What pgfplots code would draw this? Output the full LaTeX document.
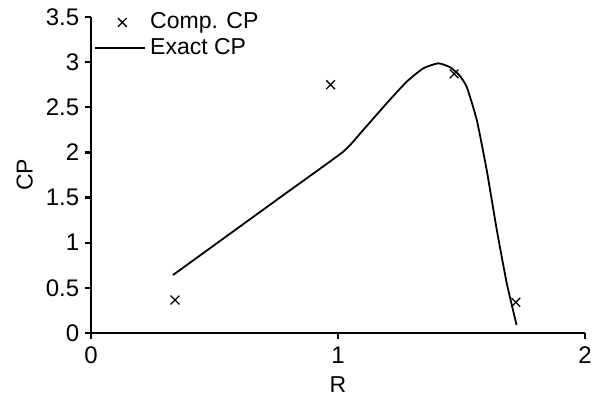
\documentclass[border=0pt]{standalone}
\usepackage{fontspec}
\setmainfont{Liberation Sans}
\usepackage{pgfplots}
\pgfplotsset{compat=1.18}
\pgfplotsset{
  mylinelegend/.style={legend image code/.code={\draw[##1] (0pt,0pt) -- (25pt,0pt);}},
  mymarklegend/.style={legend image code/.code={\draw[##1] plot coordinates {(13.5pt,0pt)};}},
}
\begin{document}
\fontsize{11}{13}\selectfont
\begin{tikzpicture}
\begin{axis}[
  scale only axis,
  width=247pt, height=158pt,
  xmin=0, xmax=2, ymin=0, ymax=3.5,
  axis lines*=left,
  axis line style={line width=1.2pt},
  xtick={0,1,2}, ytick={0,0.5,1,1.5,2,2.5,3,3.5},
  tick align=outside,
  major tick length=3pt,
  tick style={line width=1.2pt, black},
  /pgf/number format/assume math mode=true,
  xticklabel style={font=\fontsize{12}{14}\selectfont},
  yticklabel style={font=\fontsize{12}{14}\selectfont, /pgf/number format/fixed, xshift=1pt},
  xlabel={R}, ylabel={CP},
  label style={font=\fontsize{11.5}{13}\selectfont},
  xlabel style={yshift=1pt},
  ylabel style={yshift=-1pt},
  clip=false,
  legend style={draw=none, fill=none, at={(rel axis cs:-0.006,1.04)}, anchor=north west,
    font=\fontsize{11.5}{13}\selectfont, row sep=-1pt},
  legend cell align=left,
]
\addplot[only marks, mark=x, mark size=3.1pt, black, line width=0.65pt, mymarklegend]
  coordinates {(0.34,0.365) (0.97,2.75) (1.47,2.87) (1.72,0.34)};
\addlegendentry{Comp. CP}
\addplot[black, line width=0.9pt, smooth, tension=0.3, mylinelegend] coordinates {
 (0.332,0.642) (0.55,1.074) (0.78,1.530) (1.021,2.008) (1.102,2.248) (1.197,2.544)
 (1.278,2.783) (1.345,2.931) (1.406,2.987) (1.453,2.945) (1.490,2.86) (1.521,2.728) (1.562,2.359) (1.602,1.805)
 (1.643,1.141) (1.683,0.554) (1.723,0.089)};
\addlegendentry{Exact CP}
\coordinate (bbA) at (rel axis cs:-0.1842,-0.2025);
\coordinate (bbB) at (rel axis cs:1.0223,1.0538);
\end{axis}
\pgfresetboundingbox
\path[use as bounding box] (bbA) rectangle (bbB);
\end{tikzpicture}
\end{document}
